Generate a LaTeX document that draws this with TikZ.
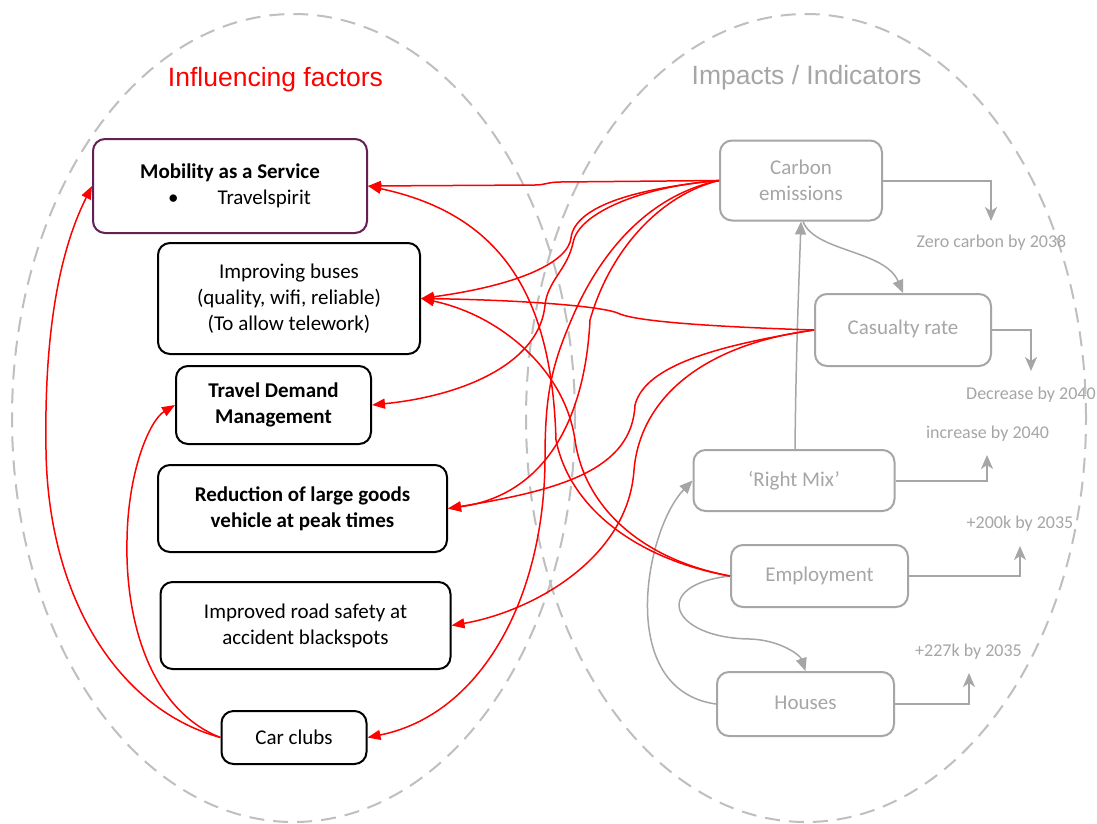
\documentclass[tikz,border=0pt]{standalone}
\usepackage{fontspec}
\setmainfont{Carlito}
\newfontfamily\arialf{Liberation Sans}
\usetikzlibrary{arrows.meta}
\definecolor{redline}{RGB}{255,0,0}
\definecolor{grayline}{RGB}{166,166,166}
\definecolor{dashgray}{RGB}{191,191,191}
\definecolor{maasborder}{RGB}{98,32,84}
\begin{document}
\begin{tikzpicture}[x=1pt,y=-1pt,
 lbox/.style={draw=black, line width=2pt, rounded corners=12pt, inner sep=0pt, align=center, font=\fontsize{21}{26}\selectfont, text=black},
 gbox/.style={draw=grayline, line width=2pt, rounded corners=12pt, inner sep=0pt, align=center, font=\fontsize{21}{26}\selectfont, text=grayline},
 rarr/.style={draw=redline, line width=1.5pt, -{Triangle[length=13pt,width=10pt]}},
 garr/.style={draw=grayline, line width=1.5pt, -{Triangle[length=13pt,width=11pt]}},
 sarr/.style={draw=grayline, line width=2pt, -{Stealth[length=14pt,width=12pt,inset=4pt]}},
 glab/.style={text=grayline, font=\fontsize{18}{22}\selectfont, inner sep=0pt},
 ell/.style={draw=dashgray, line width=2pt, dash pattern=on 15pt off 9pt}]
\useasboundingbox (0,0) rectangle (1097,823);
\fill[white] (0,0) rectangle (1097,823);
% ellipses
\draw[ell] (293.5,418) ellipse [x radius=281.5pt, y radius=404pt];
\draw[ell] (806,418) ellipse [x radius=280pt, y radius=404pt];
% titles
\node[text=redline, font=\arialf\fontsize{26.5}{30}\selectfont, inner sep=0pt] (t1) at (275.5,80) {Influencing factors};
\node[text=grayline, font=\arialf\fontsize{26.5}{30}\selectfont, inner sep=0pt] (t2) at (806.5,78) {Impacts / Indicators};
% left boxes
\node[lbox, draw=maasborder, minimum width=274pt, minimum height=94pt] (maas) at (230,186) {\textbf{Mobility as a Service}\\\hspace*{19pt}•\hspace{39pt}Travelspirit};
\node[lbox, minimum width=262pt, minimum height=111pt] (buses) at (289,298.5) {Improving buses\\(quality, wifi, reliable)\\(To allow telework)};
\node[lbox, minimum width=195pt, minimum height=78pt] (tdm) at (273.5,405) {\textbf{Travel Demand}\\\textbf{Management}};
\node[lbox, minimum width=289pt, minimum height=87pt] (red) at (302.5,508.5) {\textbf{Reduction of large goods}\\\textbf{vehicle at peak times}};
\node[lbox, minimum width=290pt, minimum height=87pt] (road) at (305.5,625.5) {Improved road safety at\\accident blackspots};
\node[lbox, minimum width=145pt, minimum height=53pt] (car) at (294,737.5) {Car clubs};
% right boxes
\node[gbox, minimum width=162pt, minimum height=80pt] (carbon) at (801,180.5) {Carbon\\emissions};
\node[gbox, minimum width=176pt, minimum height=72pt] (cas) at (903,330) {\raisebox{5pt}{Casualty rate}};
\node[gbox, minimum width=201pt, minimum height=61pt] (mix) at (794,480.5) {\raisebox{2pt}{‘Right Mix’}};
\node[gbox, minimum width=177pt, minimum height=62pt] (emp) at (819.5,576) {\raisebox{2pt}{Employment}};
\node[gbox, minimum width=177pt, minimum height=64pt] (houses) at (805.5,704) {\raisebox{3pt}{Houses}};
% target labels
\node[glab] (zc) at (991.5,243) {Zero carbon by 2038};
\node[glab, anchor=west] (de) at (966,395) {Decrease by 2040};
\node[glab] (inc) at (987.5,434) {increase by 2040};
\node[glab] (em) at (1020,524) {+200k by 2035};
\node[glab] (ho) at (968.5,652) {+227k by 2035};
\coordinate (zcA) at (991,221);
\coordinate (deA) at (1031,371);
\coordinate (inA) at (987,455);
\coordinate (emA) at (1020,546);
\coordinate (hoA) at (969,673);
\draw[sarr] (carbon.east) -| (zcA);
\draw[sarr] (cas.east) -| (deA);
\draw[sarr] (mix.east) -| (inA);
\draw[sarr] (emp.east) -| (emA);
\draw[sarr] (houses.east) -| (hoA);
% gray connectors
\draw[garr] ([xshift=1pt]mix.north) .. controls (796,350) and (799,280) .. (carbon.south);
\draw[garr] ([xshift=2pt]carbon.south) .. controls (815,252) and (885,250) .. (cas.north);
\draw[garr] (emp.west) .. controls (650,585) and (670,638) .. (750,639) .. controls (780,640) and (800,655) .. (houses.north);
\draw[garr] (houses.west) .. controls (615,690) and (645,530) .. (mix.west);
% red connectors from carbon
\draw[rarr] (carbon.west) -- (560,182) .. controls (548,182) and (545,185) .. (535,185) -- (maas.east);
\draw[rarr] (carbon.west) .. controls (640,188) and (575,205) .. (571,238) .. controls (568,262) and (520,285) .. (buses.east);
\draw[rarr] (carbon.west) .. controls (645,186) and (578,212) .. (573,243) .. controls (567,270) and (548,280) .. (545,305) .. controls (540,360) and (470,395) .. (tdm.east);
\draw[rarr] (carbon.west) .. controls (650,195) and (600,250) .. (570,323) .. controls (550,370) and (545,400) .. (545,460) .. controls (544,600) and (480,715) .. (car.east);
\draw[rarr] (carbon.west) .. controls (660,195) and (610,250) .. (590,320) .. controls (585,420) and (545,495) .. (red.east);
% red connectors from casualty
\draw[rarr] (cas.west) .. controls (720,327) and (640,322) .. (620,314) .. controls (605,306) and (520,300) .. (buses.east);
\draw[rarr] (cas.west) .. controls (720,345) and (645,365) .. (635,405) .. controls (632,470) and (560,490) .. (red.east);
\draw[rarr] (cas.west) .. controls (700,345) and (640,400) .. (634,470) .. controls (628,560) and (530,612) .. (road.east);
% red connectors from employment
\draw[rarr] (emp.west) .. controls (640,560) and (570,510) .. (556,440) .. controls (552,300) and (505,215) .. (maas.east);
\draw[rarr] (emp.west) .. controls (645,560) and (585,510) .. (575,440) .. controls (565,370) and (500,315) .. (buses.east);
% red connectors from car clubs
\draw[rarr] (car.west) .. controls (120,710) and (48,600) .. (46,450) .. controls (44,330) and (60,250) .. (maas.west);
\draw[rarr] (car.west) .. controls (150,710) and (125,620) .. (127,540) .. controls (128,470) and (150,420) .. (tdm.west);
\end{tikzpicture}
\end{document}
